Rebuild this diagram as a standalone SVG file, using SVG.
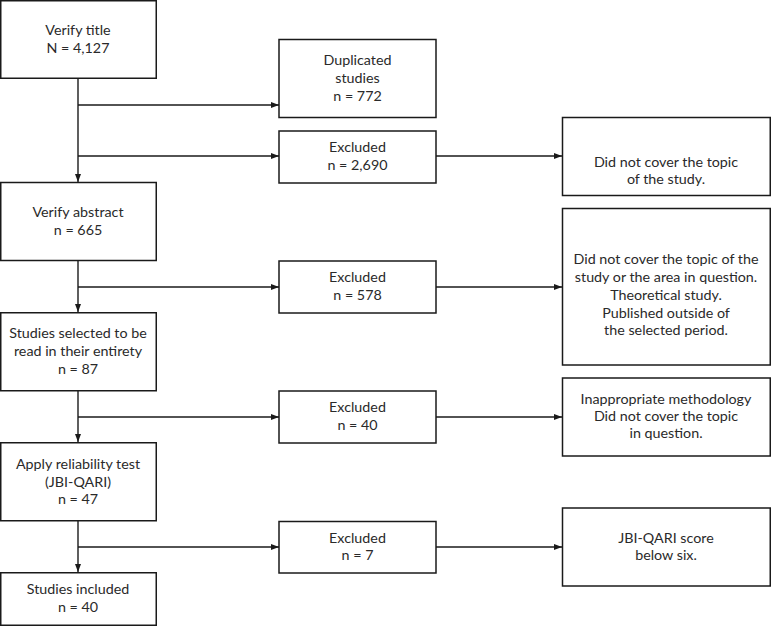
<svg xmlns="http://www.w3.org/2000/svg" width="771" height="626" viewBox="0 0 771 626">
<style>
.b{fill:#fff;stroke:#1a1a1a;stroke-width:1.5}
.t{font-family:"Lato","Liberation Sans",sans-serif;font-size:14.3px;fill:#2a2a2a;text-anchor:middle}
.c{stroke:#1a1a1a;stroke-width:1.4;fill:none;marker-end:url(#a)}
.l{stroke:#1a1a1a;stroke-width:1.4;fill:none}
</style>
<defs>
<marker id="a" viewBox="0 0 8 6" refX="8" refY="3" markerWidth="8" markerHeight="6" markerUnits="userSpaceOnUse" orient="auto">
<path d="M0,0 L8,3 L0,6 Z" fill="#1a1a1a"/>
</marker>
</defs>
<rect width="771" height="626" fill="#fff"/>
<g id="connectors">
<line class="l" x1="78" y1="78" x2="78" y2="156"/>
<line class="c" x1="78" y1="156" x2="78" y2="182"/>
<line class="c" x1="78" y1="105" x2="279" y2="105"/>
<line class="c" x1="78" y1="156" x2="279" y2="156"/>
<line class="c" x1="436" y1="156" x2="562" y2="156"/>
<line class="c" x1="78" y1="261" x2="78" y2="312"/>
<line class="c" x1="78" y1="287" x2="279" y2="287"/>
<line class="c" x1="436" y1="287" x2="562" y2="287"/>
<line class="c" x1="78" y1="391" x2="78" y2="442"/>
<line class="c" x1="78" y1="417" x2="279" y2="417"/>
<line class="c" x1="436" y1="417" x2="562" y2="417"/>
<line class="c" x1="78" y1="521" x2="78" y2="572"/>
<line class="c" x1="78" y1="547" x2="279" y2="547"/>
<line class="c" x1="436" y1="547" x2="562" y2="547"/>
</g>
<g id="verify-title"><rect class="b" x="0.75" y="0.75" width="155.5" height="77.5"/><text class="t" x="78" y="35">Verify title</text><text class="t" x="78" y="53">N = 4,127</text></g>
<g id="duplicated"><rect class="b" x="279" y="39.5" width="157" height="78"/><text class="t" x="357.5" y="65">Duplicated</text><text class="t" x="357.5" y="83">studies</text><text class="t" x="357.5" y="101">n = 772</text></g>
<g id="excluded-2690"><rect class="b" x="279" y="131" width="157" height="52"/><text class="t" x="357.5" y="152">Excluded</text><text class="t" x="357.5" y="170">n = 2,690</text></g>
<g id="reason-1"><rect class="b" x="562.5" y="117.5" width="207.75" height="78"/><text class="t" x="666" y="167">Did not cover the topic</text><text class="t" x="666" y="184">of the study.</text></g>
<g id="verify-abstract"><rect class="b" x="0.75" y="182.5" width="155.5" height="78"/><text class="t" x="78" y="217">Verify abstract</text><text class="t" x="78" y="235">n = 665</text></g>
<g id="excluded-578"><rect class="b" x="279" y="261" width="157" height="52"/><text class="t" x="357.5" y="282">Excluded</text><text class="t" x="357.5" y="300">n = 578</text></g>
<g id="reason-2"><rect class="b" x="562.5" y="208.5" width="207.75" height="156.5"/><text class="t" x="666" y="264">Did not cover the topic of the</text><text class="t" x="666" y="282">study or the area in question.</text><text class="t" x="666" y="300">Theoretical study.</text><text class="t" x="666" y="318">Published outside of</text><text class="t" x="666" y="335">the selected period.</text></g>
<g id="studies-selected"><rect class="b" x="0.75" y="312.75" width="155.5" height="78"/><text class="t" x="78" y="338">Studies selected to be</text><text class="t" x="78" y="356">read in their entirety</text><text class="t" x="78" y="374">n = 87</text></g>
<g id="excluded-40"><rect class="b" x="279" y="391" width="157" height="52"/><text class="t" x="357.5" y="412">Excluded</text><text class="t" x="357.5" y="430">n = 40</text></g>
<g id="reason-3"><rect class="b" x="562.5" y="378" width="207.75" height="78"/><text class="t" x="666" y="404">Inappropriate methodology</text><text class="t" x="666" y="421">Did not cover the topic</text><text class="t" x="666" y="438">in question.</text></g>
<g id="apply-reliability"><rect class="b" x="0.75" y="442.75" width="155.5" height="78"/><text class="t" x="78" y="469">Apply reliability test</text><text class="t" x="78" y="487">(JBI-QARI)</text><text class="t" x="78" y="504">n = 47</text></g>
<g id="excluded-7"><rect class="b" x="279" y="521.5" width="157" height="51.5"/><text class="t" x="357.5" y="543">Excluded</text><text class="t" x="357.5" y="560">n = 7</text></g>
<g id="reason-4"><rect class="b" x="562.5" y="508" width="207.75" height="78"/><text class="t" x="666" y="543">JBI-QARI score</text><text class="t" x="666" y="560">below six.</text></g>
<g id="studies-included"><rect class="b" x="0.75" y="572.75" width="155.5" height="52.5"/><text class="t" x="78" y="594">Studies included</text><text class="t" x="78" y="612">n = 40</text></g>
</svg>
